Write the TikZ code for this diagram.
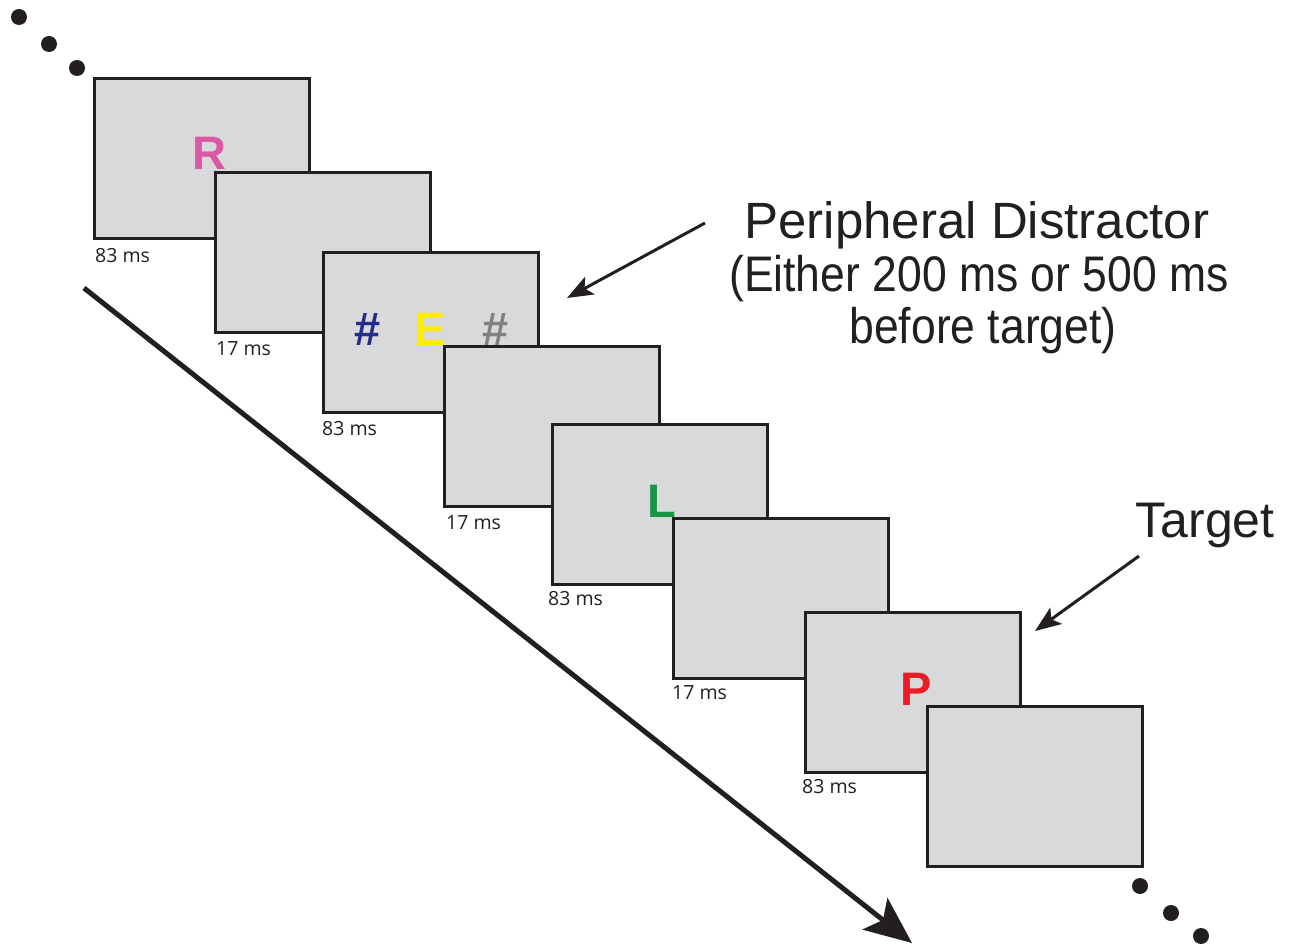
\documentclass[tikz,border=0pt]{standalone}
\usepackage{fontspec}
\setmainfont{Liberation Sans}
\newfontfamily\narrowfont[FakeStretch=0.89]{Liberation Sans}
\newfontfamily\lblfont{Open Sans}
\usetikzlibrary{arrows.meta}
\definecolor{boxgray}{RGB}{216,217,219}
\definecolor{edge}{RGB}{35,31,32}
\definecolor{rpink}{RGB}{218,88,164}
\definecolor{hblue}{RGB}{38,44,140}
\definecolor{eyellow}{RGB}{255,237,0}
\definecolor{hgray}{RGB}{128,128,128}
\definecolor{lgreen}{RGB}{24,150,70}
\definecolor{pred}{RGB}{236,28,36}
\begin{document}
\begin{tikzpicture}[x=1pt,y=-1pt,
  screen/.style={draw=edge,fill=boxgray,line width=2.6pt,minimum width=215pt,minimum height=160pt,inner sep=0pt,anchor=north west},
  dur/.style={font=\lblfont\fontsize{19.5}{19.5}\selectfont,text=edge,anchor=base west,inner sep=0pt},
  stim/.style={font=\bfseries\fontsize{47}{47}\selectfont,anchor=base,inner sep=0pt},
  big/.style={font=\fontsize{51}{52}\selectfont,text=edge,anchor=base,inner sep=0pt},
  bignarrow/.style={font=\narrowfont\fontsize{50}{52}\selectfont,text=edge,anchor=base,inner sep=0pt},
  dot/.style={circle,fill=edge,minimum size=16pt,inner sep=0pt},
  bigarrow/.style={draw=edge,line width=5pt,-{Stealth[length=47pt,width=40pt,inset=10pt]}},
  smallarrow/.style={draw=edge,line width=3pt,-{Stealth[length=26pt,width=20pt,inset=6pt]}}]
\useasboundingbox (0,0) rectangle (1301,944);
% leading dots
\node[dot] (u1) at (19,17) {};
\node[dot] (u2) at (49,44) {};
\node[dot] (u3) at (77,68) {};
% screens
\node[screen] (b1) at (93,77) {};
\node[stim,text=rpink] (sR) at (209,170) {R};
\node[dur] (d1) at (95,262) {83 ms};
\node[screen] (b2) at (214,171) {};
\node[dur] (d2) at (216,355) {17 ms};
\node[screen] (b3) at (322,251) {};
\node[stim,text=hblue] (sH1) at (368,345) {\#};
\node[stim,text=eyellow] (sE) at (430,345) {E};
\node[stim,text=hgray] (sH2) at (496,345) {\#};
\node[dur] (d3) at (322,435) {83 ms};
\node[screen] (b4) at (443,345) {};
\node[dur] (d4) at (446,529) {17 ms};
\node[screen] (b5) at (551,423) {};
\node[stim,text=lgreen] (sL) at (662,517) {L};
\node[dur] (d5) at (548,605) {83 ms};
\node[screen] (b6) at (672,517) {};
\node[dur] (d6) at (672,699) {17 ms};
\node[screen] (b7) at (804,611) {};
\node[stim,text=pred] (sP) at (916,705) {P};
\node[dur] (d7) at (802,793) {83 ms};
\node[screen] (b8) at (926,705) {};
% trailing dots
\node[dot] (v1) at (1140,886) {};
\node[dot] (v2) at (1171,913) {};
\node[dot] (v3) at (1201,936) {};
% time arrow
\coordinate (t0) at (84,288);
\coordinate (t1) at (912,943);
\draw[bigarrow] (t0) -- (t1);
% texts
\node[big] (pd1) at (977,238) {Peripheral Distractor};
\node[bignarrow] (pd2) at (979,291) {(Either 200 ms or 500 ms};
\node[bignarrow] (pd3) at (983,343) {before target)};
\node[big,font=\fontsize{50}{52}\selectfont] (tg) at (1205,537) {Target};
% pointer arrows
\coordinate (a0) at (705,223);
\coordinate (a1) at (567,298);
\draw[smallarrow] (a0) -- (a1);
\coordinate (c0) at (1139,556);
\coordinate (c1) at (1035,631);
\draw[smallarrow] (c0) -- (c1);
\end{tikzpicture}
\end{document}
